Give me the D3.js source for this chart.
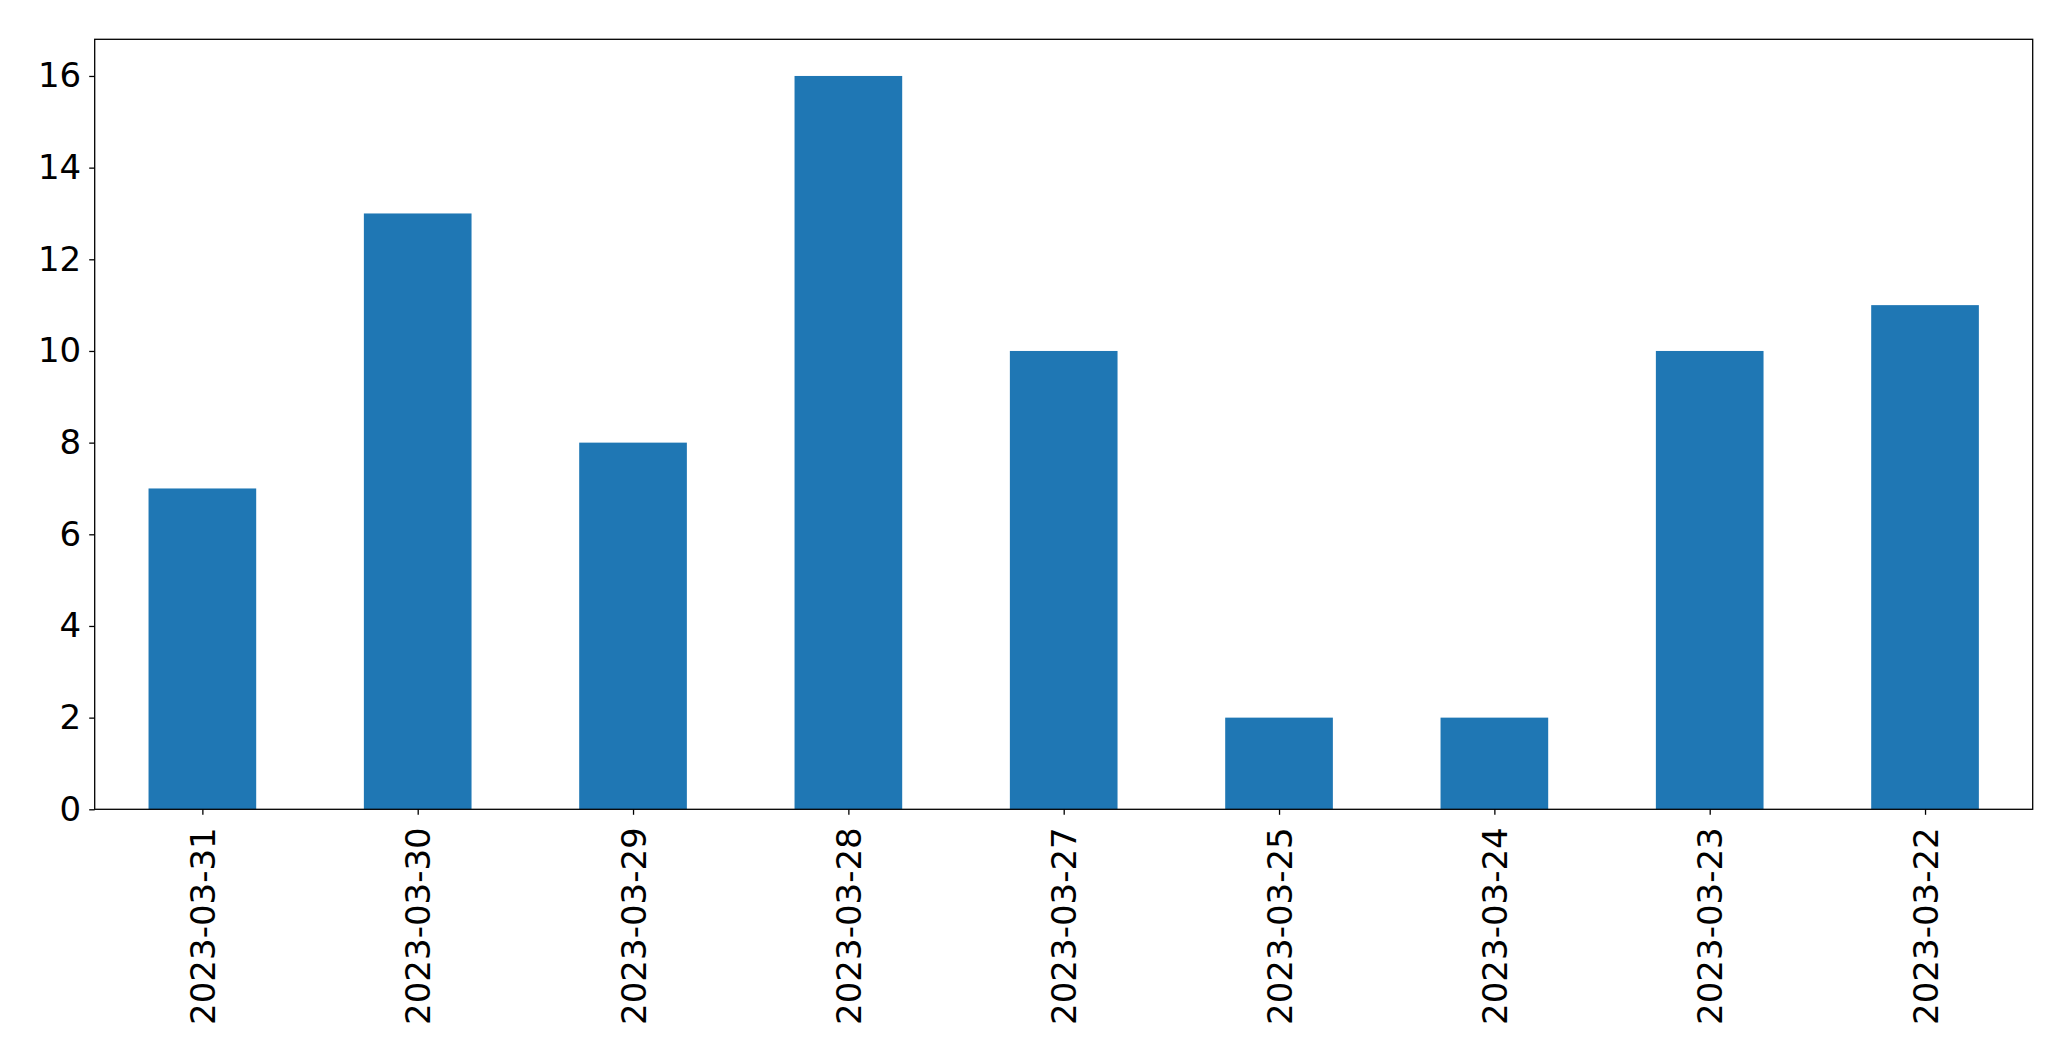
<!DOCTYPE html>
<html>
<head>
<meta charset="utf-8">
<script src="https://cdn.jsdelivr.net/npm/d3@7"></script>
<style>
  html, body { margin: 0; padding: 0; background: #fff; }
  svg { display: block; }
  text { font-family: "DejaVu Sans", sans-serif; fill: #000; }
</style>
</head>
<body>
<svg id="chart" width="2071" height="1061"></svg>
<script>
const categories = ["2023-03-31", "2023-03-30", "2023-03-29", "2023-03-28", "2023-03-27", "2023-03-25", "2023-03-24", "2023-03-23", "2023-03-22"];
const values = [7, 13, 8, 16, 10, 2, 2, 10, 11];
const yTicks = [0, 2, 4, 6, 8, 10, 12, 14, 16];

const W = 2071, H = 1061;
const plotLeft = 94.7, plotRight = 2032.7, plotTop = 39.3, plotBottom = 809.3;
const fontSize = 34;
const svg = d3.select("#chart");

const x = d3.scaleLinear().domain([-0.5, categories.length - 0.5]).range([plotLeft, plotRight]);
const y = d3.scaleLinear().domain([0, 16.8]).range([plotBottom, plotTop]);

// bars
svg.append("g").selectAll("rect").data(values).enter().append("rect")
  .attr("x", (d, i) => x(i - 0.25))
  .attr("width", (d, i) => x(i + 0.25) - x(i - 0.25))
  .attr("y", d => y(d))
  .attr("height", d => y(0) - y(d))
  .attr("fill", "#1f77b4");

// y axis
const yAxis = d3.axisLeft(y).tickValues(yTicks).tickSize(5.5).tickPadding(8).tickFormat(d3.format("d"));
const gy = svg.append("g").attr("transform", `translate(${plotLeft},0)`).call(yAxis);
gy.select(".domain").remove();
gy.selectAll(".tick line").attr("stroke", "#000").attr("stroke-width", 1.3);
gy.selectAll(".tick text").attr("font-size", fontSize).attr("font-family", "DejaVu Sans").attr("fill", "#000");

// x axis
const xAxis = d3.axisBottom(x).tickValues(d3.range(categories.length)).tickSize(5.5).tickPadding(0).tickFormat(i => categories[i]);
const gx = svg.append("g").attr("transform", `translate(0,${plotBottom})`).call(xAxis);
gx.select(".domain").remove();
gx.selectAll(".tick line").attr("stroke", "#000").attr("stroke-width", 1.3);
gx.selectAll(".tick text")
  .attr("font-size", fontSize).attr("font-family", "DejaVu Sans").attr("fill", "#000")
  .attr("text-anchor", "end")
  .attr("dy", null)
  .attr("dominant-baseline", "central")
  .attr("transform", "translate(0,18) rotate(-90)")
  .attr("x", 0).attr("y", 0);

// frame
svg.append("rect")
  .attr("x", plotLeft).attr("y", plotTop)
  .attr("width", plotRight - plotLeft).attr("height", plotBottom - plotTop)
  .attr("fill", "none").attr("stroke", "#000").attr("stroke-width", 1.3);
</script>
</body>
</html>
